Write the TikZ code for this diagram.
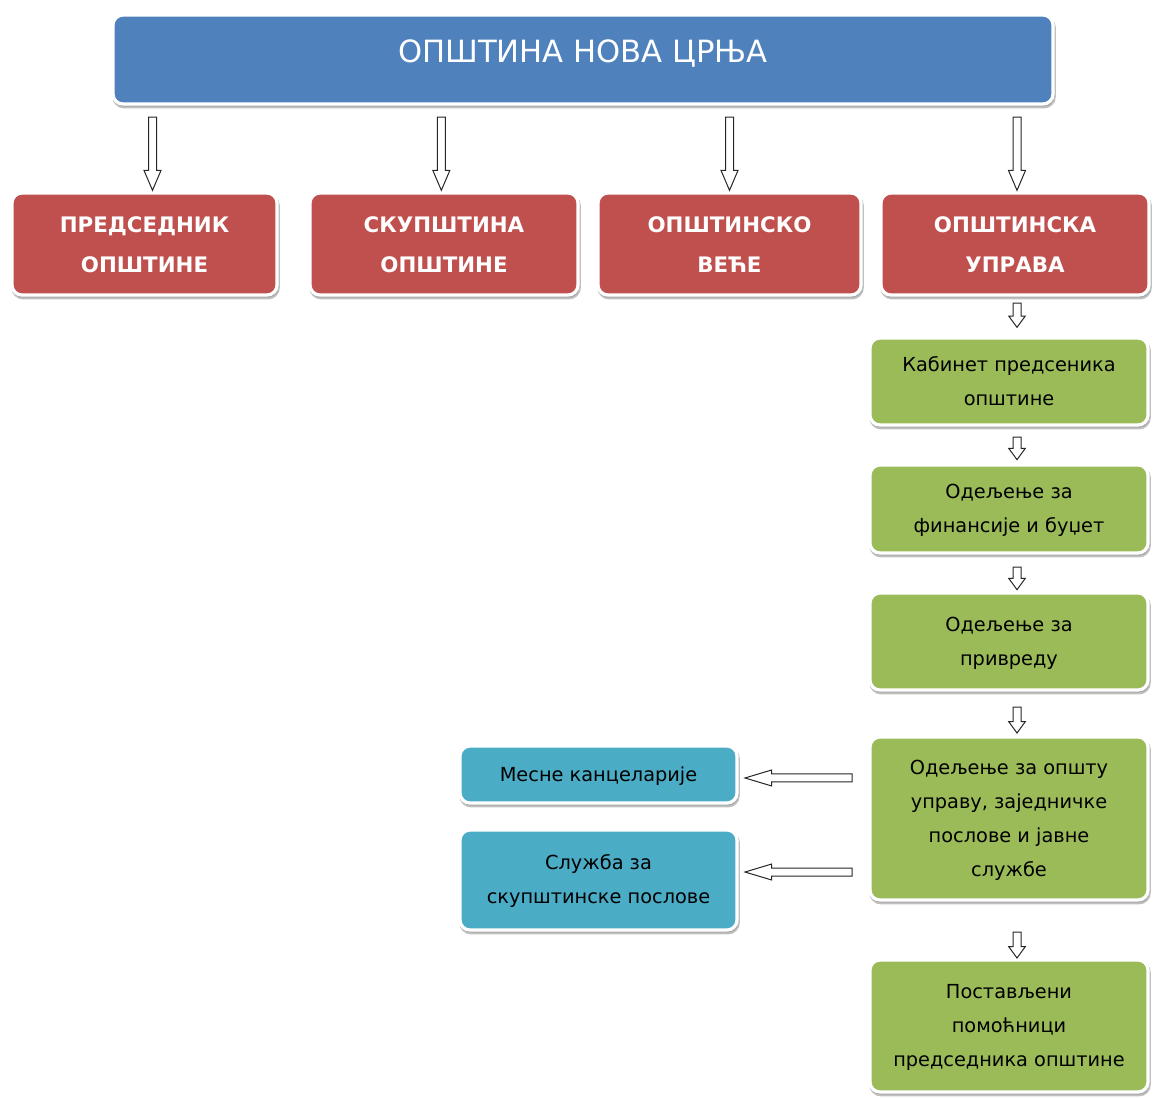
\documentclass[tikz,border=0pt]{standalone}
\usepackage{fontspec}
\setmainfont{DejaVu Sans}
\usetikzlibrary{calc,shadows}
\definecolor{topblue}{HTML}{4F81BD}
\definecolor{boxred}{HTML}{C0504D}
\definecolor{boxgreen}{HTML}{9BBB59}
\definecolor{boxcyan}{HTML}{4BACC6}
\newcommand{\boxlines}[1]{\begin{tabular}{@{}c@{}}#1\end{tabular}}
\tikzset{
  card/.style={rounded corners=7.5pt, draw=white, line width=2.4pt, inner sep=0pt, outer sep=0pt,
     drop shadow={shadow xshift=0.8pt, shadow yshift=-2pt, fill=black!40, draw=black!38, line width=2.6pt, opacity=0.65}},
  topcard/.style={card, fill=topblue, text=white, font=\fontsize{23}{28}\selectfont,
     minimum width=705pt, minimum height=66.75pt, text height=17pt, text depth=12.6pt},
  redcard/.style={card, fill=boxred, text=white, font=\bfseries\fontsize{16}{30}\selectfont, minimum height=76.5pt},
  greencard/.style={card, fill=boxgreen, text=black, font=\fontsize{14.5}{25.5}\selectfont, minimum width=208.5pt},
  cyancard/.style={card, fill=boxcyan, text=black, font=\fontsize{14.5}{25.5}\selectfont, minimum width=207.75pt},
  blockarrow/.style n args={3}{draw=black!85, fill=white, line width=0.75pt, line join=miter,
    to path={let \p1=(\tikztostart), \p2=(\tikztotarget) in
      ($(\p1)!#1!90:(\p2)$) -- ($(\p2)!#3!(\p1)!#1!-90:(\p1)$) -- ($(\p2)!#3!(\p1)!#2!-90:(\p1)$) -- (\p2)
      -- ($(\p2)!#3!(\p1)!#2!90:(\p1)$) -- ($(\p2)!#3!(\p1)!#1!90:(\p1)$) -- ($(\p1)!#1!-90:(\p2)$) -- cycle}},
  bigarrow/.style={blockarrow={3pt}{6.4pt}{15pt}},
  smallarrow/.style={blockarrow={3pt}{6.2pt}{8.5pt}},
  sidearrow/.style={blockarrow={3pt}{6pt}{20pt}},
}
\begin{document}
\begin{tikzpicture}[x=0.75pt,y=-0.75pt]
\useasboundingbox (0,0) rectangle (1153,1097);
\node[topcard] (top) at (583,59.5) {ОПШТИНА НОВА ЦРЊА};
\node[redcard, minimum width=198.75pt] (p1) at (144.5,244) {\boxlines{ПРЕДСЕДНИК\\ОПШТИНЕ}};
\node[redcard, minimum width=201pt] (p2) at (444,244) {\boxlines{СКУПШТИНА\\ОПШТИНЕ}};
\node[redcard, minimum width=197.25pt] (p3) at (729.5,244) {\boxlines{ОПШТИНСКО\\ВЕЋЕ}};
\node[redcard, minimum width=201pt] (p4) at (1015,244) {\boxlines{ОПШТИНСКА\\УПРАВА}};
\node[greencard, minimum height=65.25pt] (g1) at (1009,381.5) {\boxlines{Кабинет предсеника\\општине}};
\node[greencard, minimum height=66pt] (g2) at (1009,509) {\boxlines{Одељење за\\финансије и буџет}};
\node[greencard, minimum height=72.75pt] (g3) at (1009,641.5) {\boxlines{Одељење за\\привреду}};
\node[greencard, minimum height=122.25pt] (g4) at (1009,818.5) {\boxlines{Одељење за општу\\управу, заједничке\\послове и јавне\\службе}};
\node[greencard, minimum height=99pt] (g5) at (1009,1026) {\boxlines{Постављени\\помоћници\\председника општине}};
\node[cyancard, minimum height=42.75pt] (c1) at (598.5,774.5) {\boxlines{Месне канцеларије}};
\node[cyancard, minimum height=75pt] (c2) at (598.5,880) {\raisebox{3pt}{\boxlines{Служба за\\скупштинске послове}}};
% top -> red boxes
\path[bigarrow] ($(top.south -| p1.north)+(6pt,-9.75pt)$) to ($(p1.north)+(6pt,2pt)$);
\path[bigarrow] ($(top.south -| p2.north)+(-2pt,-9.75pt)$) to ($(p2.north)+(-2pt,2pt)$);
\path[bigarrow] ($(top.south -| p3.north)+(0pt,-9.75pt)$) to ($(p3.north)+(0pt,2pt)$);
\path[bigarrow] ($(top.south -| p4.north)+(1.5pt,-9.75pt)$) to ($(p4.north)+(1.5pt,2pt)$);
% vertical chain
\path[smallarrow] ($(p4.south -| g1.north)+(6pt,-6pt)$) to ($(g1.north)+(6pt,8pt)$);
\path[smallarrow] ($(g1.south)+(6pt,-9pt)$) to ($(g2.north)+(6pt,4pt)$);
\path[smallarrow] ($(g2.south)+(6pt,-10.5pt)$) to ($(g3.north)+(6pt,2.5pt)$);
\path[smallarrow] ($(g3.south)+(6pt,-12.75pt)$) to ($(g4.north)+(6pt,3pt)$);
\path[smallarrow] ($(g4.south)+(6pt,-24pt)$) to ($(g5.north)+(6pt,1.5pt)$);
% side arrows
\path[sidearrow] ($(g4.west |- c1.east)+(-13.5pt,-2.6pt)$) to ($(c1.east)+(6pt,-2.6pt)$);
\path[sidearrow] ($(g4.west |- c2.east)+(-13.5pt,6pt)$) to ($(c2.east)+(6pt,6pt)$);
\end{tikzpicture}
\end{document}
